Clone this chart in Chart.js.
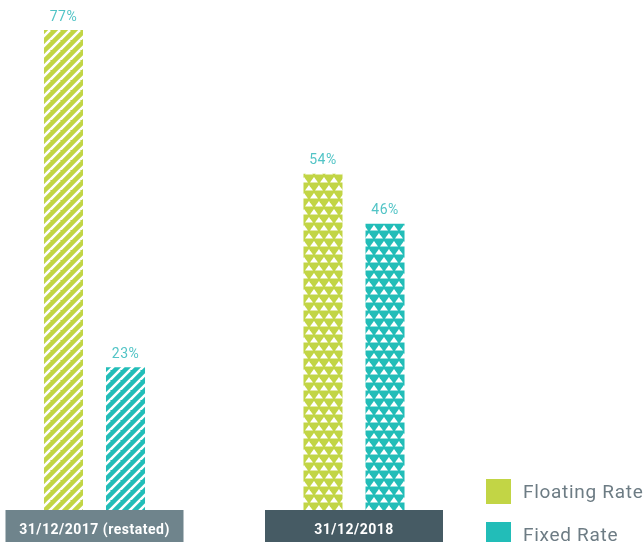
<!DOCTYPE html>
<html>
<head>
<meta charset="utf-8">
<script src="https://cdn.jsdelivr.net/npm/chart.js@4.4.1/dist/chart.umd.min.js"></script>
<style>
  html, body { margin: 0; padding: 0; background: #fff; }
  #wrap { width: 644px; height: 542px; }
</style>
</head>
<body>
<div id="wrap"><canvas id="rateChart" width="644" height="542"></canvas></div>
<script>
const categories = ["31/12/2017 (restated)", "31/12/2018"];
const seriesNames = ["Floating Rate", "Fixed Rate"];
const floatingRate = [77, 54];
const fixedRate = [23, 46];

const green = "#c2d545";
const teal = "#22bdb8";

// diagonal white stripes ("/")
function stripePattern(color) {
  const c = document.createElement("canvas");
  c.width = 10; c.height = 10;
  const g = c.getContext("2d");
  g.fillStyle = color;
  g.fillRect(0, 0, 10, 10);
  g.strokeStyle = "#fff";
  g.lineWidth = 2.6;
  g.beginPath();
  for (let k = -10; k <= 20; k += 10) {
    g.moveTo(k - 10, 20);
    g.lineTo(k + 10, 0);
  }
  g.stroke();
  return g.createPattern(c, "repeat");
}

// offset rows of small white triangles
function trianglePattern(color) {
  const c = document.createElement("canvas");
  c.width = 10; c.height = 16;
  const g = c.getContext("2d");
  g.fillStyle = color;
  g.fillRect(0, 0, 10, 16);
  g.fillStyle = "#fff";
  const tri = (cx, top) => {
    g.beginPath();
    g.moveTo(cx, top);
    g.lineTo(cx + 4, top + 5.5);
    g.lineTo(cx - 4, top + 5.5);
    g.closePath();
    g.fill();
  };
  tri(4, 1);
  tri(-1, 9);
  tri(9, 9);
  return g.createPattern(c, "repeat");
}

const valueLabels = {
  id: "valueLabels",
  afterDatasetsDraw(chart) {
    const ctx = chart.ctx;
    ctx.save();
    ctx.fillStyle = "#52c4c6";
    ctx.font = "14px Roboto";
    ctx.letterSpacing = "0.5px";
    ctx.textAlign = "center";
    ctx.textBaseline = "middle";
    chart.data.datasets.forEach((ds, i) => {
      chart.getDatasetMeta(i).data.forEach((bar, j) => {
        ctx.fillText(ds.data[j] + "%", bar.x, bar.y - 13);
      });
    });
    ctx.restore();
  }
};

// category boxes under the bars + legend bottom right
const boxesAndLegend = {
  id: "boxesAndLegend",
  afterDraw(chart) {
    const ctx = chart.ctx;
    const x = chart.scales.x;
    const bottom = chart.chartArea.bottom;
    const boxColors = ["#6f848c", "#465b64"];
    ctx.save();
    categories.forEach((label, i) => {
      const cx = x.getPixelForValue(i);
      ctx.fillStyle = boxColors[i];
      ctx.fillRect(cx - 89, bottom - 1, 178, 37);
      ctx.fillStyle = "#fff";
      ctx.font = "bold 14px Roboto";
      ctx.letterSpacing = "0.5px";
      ctx.textAlign = "center";
      ctx.textBaseline = "middle";
      ctx.fillText(label, cx, bottom + 19);
    });
    const swatch = [green, teal];
    seriesNames.forEach((name, i) => {
      const y = 479 + i * 43;
      ctx.fillStyle = swatch[i];
      ctx.fillRect(486, y, 25, 25);
      ctx.fillStyle = "#6d7c84";
      ctx.font = "19px Roboto";
      ctx.letterSpacing = "0.7px";
      ctx.textAlign = "left";
      ctx.textBaseline = "middle";
      ctx.fillText(name, 523, y + 14);
    });
    ctx.restore();
  }
};

new Chart(document.getElementById("rateChart"), {
  type: "bar",
  data: {
    labels: categories,
    datasets: [
      {
        label: seriesNames[0],
        data: floatingRate,
        backgroundColor: [stripePattern(green), trianglePattern(green)],
        clip: false
      },
      {
        label: seriesNames[1],
        data: fixedRate,
        backgroundColor: [stripePattern(teal), trianglePattern(teal)],
        clip: false
      }
    ]
  },
  options: {
    responsive: false,
    animation: false,
    layout: { padding: { left: 94.5, right: 290, top: 30, bottom: 31 } },
    datasets: {
      bar: { categoryPercentage: 0.478, barPercentage: 0.629 }
    },
    scales: {
      x: { display: false, offset: false },
      y: { display: false, min: 0, max: 77 }
    },
    plugins: {
      legend: { display: false },
      tooltip: { enabled: false }
    }
  },
  plugins: [valueLabels, boxesAndLegend]
});
</script>
</body>
</html>
